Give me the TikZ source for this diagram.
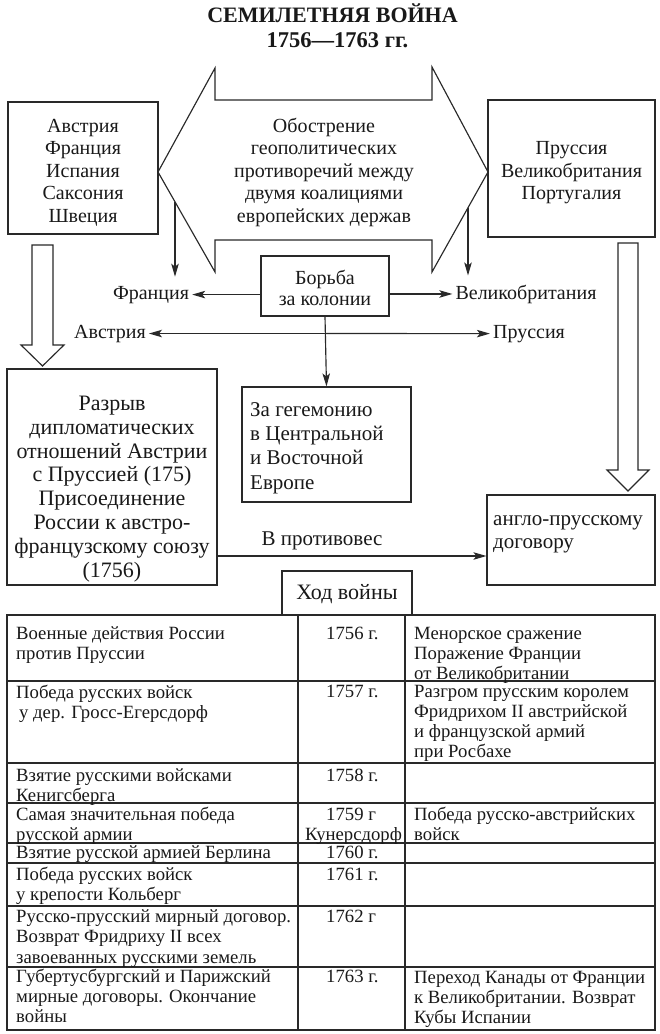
\documentclass[tikz,border=0pt]{standalone}
\usepackage{fontspec}
\setmainfont{Liberation Serif}
\usetikzlibrary{arrows.meta}
\begin{document}
\begin{tikzpicture}[x=1pt,y=-1pt,
  ln/.style={line width=1.15pt, draw=black!84},
  box/.style={ln, rectangle, inner sep=0pt},
  txt/.style={font=\fontsize{20}{22.5}\selectfont, text=black!90, inner sep=0pt, align=center, anchor=base},
  lbl/.style={font=\fontsize{20}{22.5}\selectfont, text=black!90, inner xsep=3pt, inner ysep=9pt, anchor=base},
  ttx/.style={font=\fontsize{18.7}{20}\selectfont, text=black!90, inner sep=0pt, align=left, anchor=base west},
  arr/.style={ln, -{Stealth[length=13pt,width=7.5pt,inset=3pt]}},
  blk/.style={ln, fill=white, line join=miter}]
\useasboundingbox (0,0) rectangle (659,1034);
\fill[white] (0,0) rectangle (659,1034);

% title
\node[txt, font=\bfseries\fontsize{22}{24}\selectfont] (title1) at (332.5,22) {СЕМИЛЕТНЯЯ ВОЙНА};
\node[txt, font=\bfseries\fontsize{22.5}{24}\selectfont] (title2) at (337.5,47) {1756—1763 гг.};

% boxes
\node[box, minimum width=150pt, minimum height=132pt] (lbox) at (83,168) {};
\node[box, minimum width=167pt, minimum height=137pt] (rbox) at (571.5,168.5) {};
\node[box, minimum width=128pt, minimum height=60pt] (borba) at (325,286) {};
\node[box, minimum width=169pt, minimum height=115pt] (geg) at (326.5,444.5) {};
\node[box, minimum width=210pt, minimum height=216pt] (razr) at (112,477) {};
\node[box, minimum width=168pt, minimum height=90pt] (anglo) at (571,540) {};
\node[box, minimum width=130pt, minimum height=44pt] (hod) at (347,593) {};

% big double arrow
\draw[ln, line join=miter] (158,172) coordinate (tipL) -- (215,68) -- (215,100) -- (432,100) -- (432,67)
  -- (488,172) coordinate (tipR) -- (432,272) -- (432,240) -- (215,240) -- (215,272) -- cycle;
\coordinate (eL) at (175,201.8);
\coordinate (eR) at (468,207.7);

% block arrows
\draw[blk] (32,245) -- (53,245) -- (53,345) -- (64,345) -- (42.5,366) -- (21,345) -- (32,345) -- cycle;
\draw[blk] (618,243) -- (638,243) -- (638,470) -- (649,470) -- (628,491) -- (607,470) -- (618,470) -- cycle;

% texts (base anchor = baseline of the last line)
\node[txt] (lt) at (83,222) {Австрия\\Франция\\Испания\\Саксония\\Швеция};
\node[txt] (mt) at (324,222) {Обострение\\геополитических\\противоречий между\\двумя коалициями\\европейских держав};
\node[txt] (rt) at (571.5,199.5) {Пруссия\\Великобритания\\Португалия};
\node[txt, font=\fontsize{20}{21}\selectfont] (bt) at (325,305) {Борьба\\за колонии};
\node[lbl] (fr) at (151,299) {Франция};
\node[lbl] (gb) at (526,299) {Великобритания};
\node[lbl] (avs) at (110,338) {Австрия};
\node[lbl] (pr) at (529,338) {Пруссия};
\node[txt, font=\fontsize{21}{24.3}\selectfont, align=left, anchor=base west] (gt) at (250,489) {За гегемонию\\в Центральной\\и Восточной\\Европе};
\node[txt, font=\fontsize{22}{23.8}\selectfont] (rzt) at (112,577) {Разрыв\\дипломатических\\отношений Австрии\\с Пруссией (175)\\Присоединение\\России к австро-\\французскому союзу\\(1756)};
\node[txt, font=\fontsize{21}{23}\selectfont, align=left, anchor=base west] (at) at (493,548) {англо-прусскому\\договору};
\node[txt, font=\fontsize{21}{23}\selectfont] (vp) at (322,545) {В противовес};
\node[txt, font=\fontsize{22}{24}\selectfont] (ht) at (347,599) {Ход войны};

% connectors
\draw[arr] (eL) -- (eL |- fr.north);
\draw[arr] (eR) -- (eR |- gb.north);
\draw[arr] (borba.west |- fr.east) -- (fr.east);
\draw[arr] (borba.east |- gb.west) -- (gb.west);
\draw[arr] (borba.south) -- (geg.north);
\coordinate (jn) at (borba.south |- avs.east);
\draw[arr] (jn) -- (avs.east);
\draw[arr] (jn) -- (pr.west);
\draw[arr] ([yshift=-79pt]razr.east) -- ([yshift=-79pt]razr.east -| anglo.west);

% table
\draw[ln] (7,615) rectangle (655,1030);
\draw[ln] (298,615) -- (298,1030);
\draw[ln] (405,615) -- (405,1030);
\foreach \yy in {681,763,803,843,863,906,967} \draw[ln] (7,\yy) -- (655,\yy);

\node[ttx] (c1a) at (16,659) {Военные действия России\\против Пруссии};
\node[ttx] (c1b) at (326,639) {1756 г.};
\node[ttx] (c1c) at (414,679) {Менорское сражение\\Поражение Франции\\от Великобритании};
\node[ttx] (c2a) at (16,718) {Победа русских войск\\\hspace*{3pt}у дер. Гросс-Егерсдорф};
\node[ttx] (c2b) at (326,697) {1757 г.};
\node[ttx] (c2c) at (414,757) {Разгром прусским королем\\Фридрихом II австрийской\\и французской армий\\при Росбахе};
\node[ttx] (c3a) at (16,801) {Взятие русскими войсками\\Кенигсберга};
\node[ttx] (c3b) at (326,781) {1758 г.};
\node[ttx] (c4a) at (16,840) {Самая значительная победа\\русской армии};
\node[ttx] (c4b) at (305,840) {\hspace*{21pt}1759 г\\Кунерсдорф};
\node[ttx] (c4c) at (414,840) {Победа русско-австрийских\\войск};
\node[ttx] (c5a) at (16,858) {Взятие русской армией Берлина};
\node[ttx] (c5b) at (326,858) {1760 г.};
\node[ttx] (c6a) at (16,900) {Победа русских войск\\у крепости Кольберг};
\node[ttx] (c6b) at (326,880) {1761 г.};
\node[ttx, font=\fontsize{18.7}{20.5}\selectfont] (c7a) at (16,963) {Русско-прусский мирный договор.\\Возврат Фридриху II всех\\завоеванных русскими земель};
\node[ttx] (c7b) at (326,922) {1762 г};
\node[ttx] (c8a) at (16,1022) {Губертусбургский и Парижский\\мирные договоры. Окончание\\войны};
\node[ttx] (c8b) at (326,982) {1763 г.};
\node[ttx] (c8c) at (414,1023) {Переход Канады от Франции\\к Великобритании. Возврат\\Кубы Испании};
\end{tikzpicture}
\end{document}
